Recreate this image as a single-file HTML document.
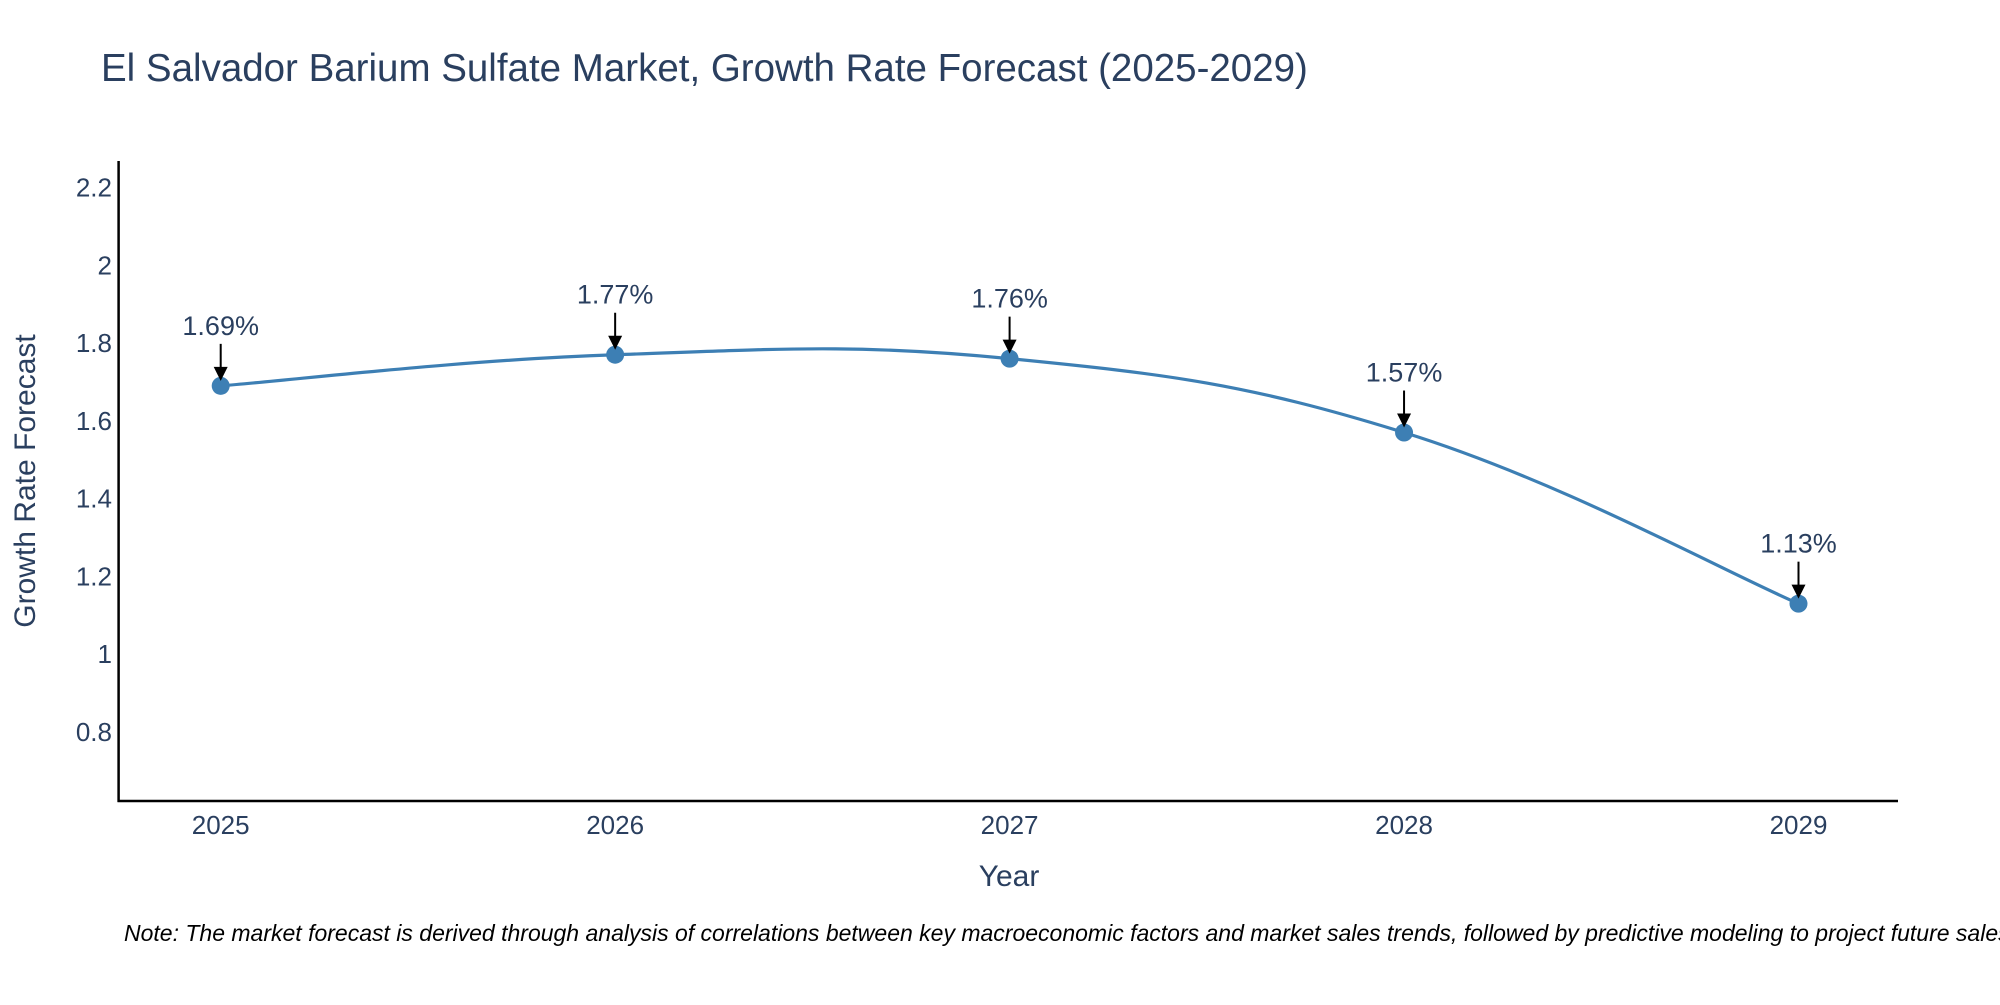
<!DOCTYPE html>
<html><head><meta charset="utf-8"><style>
body{margin:0;background:#fff;}
svg text{font-family:"Liberation Sans",Arial,sans-serif;fill:#2a3f5f;}
</style></head><body>
<svg id="chart" width="2000" height="1000" xmlns="http://www.w3.org/2000/svg">
<text x="101" y="81" font-size="38.5">El Salvador Barium Sulfate Market, Growth Rate Forecast (2025-2029)</text>
<g id="yticks"></g>
<g id="xticks"></g>
<line x1="118.6" y1="161" x2="118.6" y2="802" stroke="#000" stroke-width="2.5"/>
<line x1="117.5" y1="801" x2="1898" y2="801" stroke="#000" stroke-width="2.5"/>
<text transform="translate(35,481) rotate(-90)" text-anchor="middle" font-size="30">Growth Rate Forecast</text>
<text x="1009" y="886" text-anchor="middle" font-size="30">Year</text>
<g id="series"></g>
<g id="annos"></g>
<text x="124" y="941" font-size="23" font-style="italic" style="fill:#000">Note: The market forecast is derived through analysis of correlations between key macroeconomic factors and market sales trends, followed by predictive modeling to project future sales.</text>
</svg>
<script>
const years = [2025, 2026, 2027, 2028, 2029];
const growth = [1.69, 1.77, 1.76, 1.57, 1.13];
const labels = ["1.69%", "1.77%", "1.76%", "1.57%", "1.13%"];
const yTickValues = [0.8, 1, 1.2, 1.4, 1.6, 1.8, 2, 2.2];
const yTickLabels = ["0.8", "1", "1.2", "1.4", "1.6", "1.8", "2", "2.2"];

const NS = "http://www.w3.org/2000/svg";
function xS(v){ return 220.7 + (v - 2025) * 394.45; }
function yS(v){ return 732 - (v - 0.8) * 1944.6 / 5; }
function mk(tag, attrs, parent){ const e=document.createElementNS(NS,tag); for(const k in attrs) e.setAttribute(k,attrs[k]); parent.appendChild(e); return e; }

const yt=document.getElementById('yticks');
yTickValues.forEach((v,i)=>{
  const t=mk('text',{x:112,y:yS(v)+9,'text-anchor':'end','font-size':26},yt);
  
  
  t.textContent=yTickLabels[i];
});
const xt=document.getElementById('xticks');
years.forEach(v=>{
  const t=mk('text',{x:xS(v),y:834,'text-anchor':'middle','font-size':26},xt);
  
  
  t.textContent=String(v);
});

const pts=years.map((y,i)=>[xS(y),yS(growth[i])]);
const s=document.getElementById('series');
let d='M'+pts[0][0]+','+pts[0][1];
const k=0.2;
for(let i=0;i<pts.length-1;i++){
  const p0=pts[Math.max(0,i-1)],p1=pts[i],p2=pts[i+1],p3=pts[Math.min(pts.length-1,i+2)];
  const c1=[p1[0]+(p2[0]-p0[0])*k,p1[1]+(p2[1]-p0[1])*k];
  const c2=[p2[0]-(p3[0]-p1[0])*k,p2[1]-(p3[1]-p1[1])*k];
  d+=' C'+c1[0]+','+c1[1]+' '+c2[0]+','+c2[1]+' '+p2[0]+','+p2[1];
}
const line=mk('path',{d:d,fill:'none',stroke:'#3d7fb4','stroke-width':3.2},s);


pts.forEach(p=>{
  const c=mk('circle',{cx:p[0],cy:p[1],r:9,fill:'#3d7fb4'},s);
  
  
});

const an=document.getElementById('annos');
pts.forEach((p,i)=>{
  const l=mk('line',{x1:p[0],y1:p[1]-42,x2:p[0],y2:p[1]-16,stroke:'#000','stroke-width':2},an);
  
  
  const h=mk('polygon',{points:(p[0]-7)+','+(p[1]-19)+' '+(p[0]+7)+','+(p[1]-19)+' '+p[0]+','+(p[1]-5),fill:'#000'},an);
  
  
  const t=mk('text',{x:p[0],y:p[1]-51,'text-anchor':'middle','font-size':27},an);
  
  
  t.textContent=labels[i];
});
</script>
</body></html>
